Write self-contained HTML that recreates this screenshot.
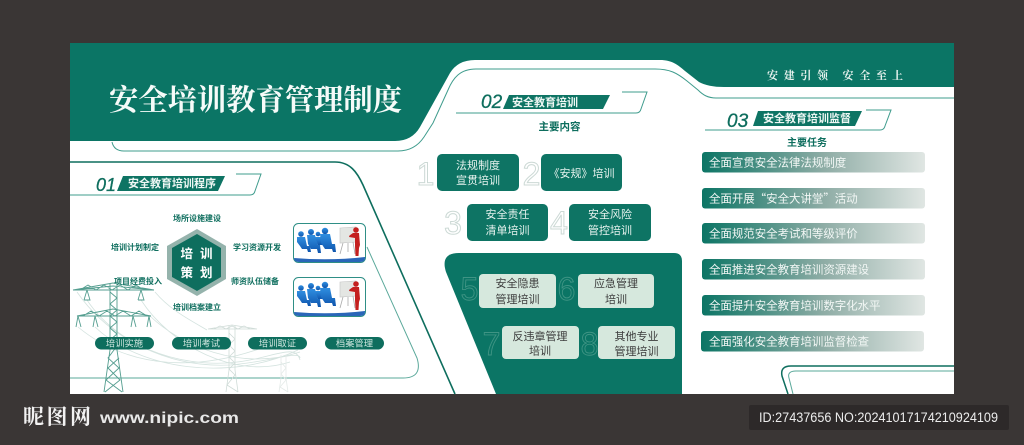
<!DOCTYPE html>
<html lang="zh"><head><meta charset="utf-8"><title>安全培训教育管理制度</title>
<style>
html,body{margin:0;padding:0;background:#3a3635}
svg{display:block;position:absolute;left:0;top:0}
text{font-family:"Liberation Sans","Noto Sans CJK SC",sans-serif}
.s{font-family:"Liberation Serif","Noto Serif CJK SC",serif}
.m{text-anchor:middle}
.lb{font-size:8px;font-weight:700;fill:#0e6e5e;text-anchor:middle}
.b{font-size:11px;fill:#e6f2ee;text-anchor:middle}
.d{font-size:11px;fill:#3c3c3c;text-anchor:middle}
.n{font-size:32px;fill:#fff;stroke:#ccd9d5;stroke-width:1;text-anchor:middle}
.g{font-size:32px;fill:none;stroke:#3f9484;stroke-width:.9;text-anchor:middle}
.p{font-size:9.3px;fill:#cfe6df;text-anchor:middle}
.t{font-size:11.45px;fill:#f2f7f5;font-family:"Noto Sans CJK SC",sans-serif}
.h{font-size:11px;font-weight:700;fill:#eef7f4}
.num{font-size:18px;font-style:italic;fill:#0e6e5e;stroke:#0e6e5e;stroke-width:.3}
</style></head><body>
<svg width="1024" height="445" viewBox="0 0 1024 445" xmlns="http://www.w3.org/2000/svg">
<defs>
<linearGradient id="gr" x1="0" x2="1" y1="0" y2="0"><stop offset="0" stop-color="#0c7565"/><stop offset=".55" stop-color="#8fada6"/><stop offset="1" stop-color="#e0e6e3"/></linearGradient>
<linearGradient id="bl" x1="0" x2="0" y1="0" y2="1"><stop offset="0" stop-color="#2f8ee0"/><stop offset="1" stop-color="#0f55ad"/></linearGradient>
<g id="thumb">
<rect x=".5" y=".5" width="72" height="39" rx="5" fill="#fff" stroke="#2f8f86"/>
<path d="M1 35q36 3 71 -1v1q0 4 -5 4H6q-5 0-5-4z" fill="#2a66b8"/>
<g fill="url(#bl)">
<circle cx="8" cy="11" r="2.800"/><path d="M4 14h8l2 9h3l1 6h-3l-1-3h-5l-2-3-3-4z"/>
<circle cx="18" cy="9" r="3"/><path d="M14 12h8l3 10h2l1 8h-3l-1-4h-6l-3-5z"/>
<circle cx="25" cy="11" r="2.300"/><path d="M22 14h6l2 8h-5z"/>
<circle cx="32" cy="8" r="3.200"/><path d="M27 11h10l2 10h3l1 8h-3l-1-3h-7l-4-6z"/>
</g>
<path d="M47 5l16-1v15l-16 1z" fill="#e4e6e3" stroke="#c4c4c4" stroke-width=".6"/>
<path d="M50 20l-3 11M60 19l2 12M55 20v9" stroke="#aaa" stroke-width=".8" fill="none"/>
<circle cx="63" cy="7" r="2.800" fill="#c4201f"/>
<path d="M60 10h6l1 12-1 3-.5 8h-3l-.5-10 0-8-6-1 .5-1.500z" fill="#c4201f"/>
</g>
</defs>

<rect width="1024" height="445" fill="#3a3635"/>
<rect x="70" y="43" width="884" height="351" fill="#fff"/>

<!-- top green -->
<path d="M70 43H954V87H724Q708 87 699 82L685 71C678 65 672 60 660 60H475Q458 60 450 73L420 127Q412 141 395 141H70Z" fill="#0b7565"/>
<!-- thin outline under banner -->
<path d="M112 142Q114 151 124 151H398C410 151 418 146 424 137L433 123L448 90C453 78 460 69 476 69H655C670 69 677 73 687 81L698 90C703 95 708 98 716 98H954" fill="none" stroke="#3f9c8d" stroke-width="1"/>

<!-- section 1 outlines -->
<path d="M70 162H335C350 162 357 172 363 185L455 394" fill="none" stroke="#0e6e5e" stroke-width="1.600"/>
<path d="M367 247L417 358Q423 378 403 378H70" fill="none" stroke="#5aa89a" stroke-width="1"/>

<!-- towers -->
<g fill="none" stroke="#d4e3df" stroke-width=".8">
<path d="M77 292C110 340 170 368 230 365C270 362 300 350 300 358M155 292C170 310 190 320 207 330M87 300C120 350 190 372 250 360C280 354 296 345 300 360M150 316C180 345 240 372 300 352M78 327C130 370 200 372 270 345M141 300C170 345 235 380 290 362M95 327C140 370 230 382 298 350"/>
</g>
<g fill="none" stroke="#559e90" stroke-width=".9">
<path d="M73 290L113 283L154 290L113 286ZM73 290H154M80 290L88 285L96 290L104 285L112 290L120 285L128 290L136 285L144 290"/>
<path d="M77 316L113 309L151 316ZM77 316H151M83 316L91 311L99 316L107 311L115 316L123 311L131 316L139 311L147 316"/>
<path d="M110 284V350L104 392M117 284V350L123 392M110 292L117 298L110 304L117 310L110 316L117 322L110 328L117 334L110 340L117 346L108 358L119 368L106 380L122 392M119 358L108 368L120 380L105 392"/>
<path d="M87 290L84 300M87 290L90 300H84M141 290L138 300M141 290L144 300H138M78 316L76 327M78 316L81 327M95 316L93 327M95 316L98 327M133 316L131 327M133 316L136 327M149 316L147 327M149 316L151 327"/>
</g>
<g fill="none" stroke="#d0dcd8" stroke-width=".8">
<path d="M208 329L232 325L257 329ZM214 329L220 326L226 329L232 326L238 329L244 326L250 329"/>
<path d="M229 326V370L226 392M235 326V370L238 392M229 333L235 339L229 345L235 351L229 357L235 363L229 369L235 375L227 385L238 392"/>
</g>
<g fill="none" stroke="#e4eae8" stroke-width=".8">
<path d="M281 355V378L279 392M286 355V378L288 392M281 362L286 368L281 374L286 380L280 387L288 392"/>
</g>

<!-- section 1 head -->
<text class="num" x="96" y="191">01</text>
<path d="M117 191L123 176H225L218 191Z" fill="#0e7464"/>
<text class="h" x="128" y="187">安全教育培训程序</text>
<path d="M70 195H250Q254 195 255 191L261 174H236" fill="none" stroke="#3f9c8d" stroke-width="1"/>

<!-- hexagon -->
<path d="M197 229L226 246V279L197 296L167 279V246Z" fill="#95b3ac"/>
<path d="M197 234L221 248V277L197 291L172 277V248Z" fill="#0e6e5e"/>
<g font-size="12.500" font-weight="700" fill="#fff">
<text x="180.500" y="258">培</text><text x="200" y="258">训</text>
<text x="180.500" y="277">策</text><text x="200" y="277">划</text>
</g>
<text class="lb" x="197" y="221">场所设施建设</text>
<text class="lb" x="135" y="250">培训计划制定</text>
<text class="lb" x="257" y="250">学习资源开发</text>
<text class="lb" x="138" y="284">项目经费投入</text>
<text class="lb" x="255" y="284">师资队伍储备</text>
<text class="lb" x="197" y="310">培训档案建立</text>

<use href="#thumb" x="293" y="223"/>
<use href="#thumb" x="293" y="277"/>

<g fill="#0e6e5e">
<rect x="95" y="337" width="59" height="12.500" rx="6.250"/>
<rect x="172" y="337" width="59" height="12.500" rx="6.250"/>
<rect x="248" y="337" width="59" height="12.500" rx="6.250"/>
<rect x="325" y="337" width="59" height="12.500" rx="6.250"/>
</g>
<text class="p" x="124.500" y="346.500">培训实施</text>
<text class="p" x="201.500" y="346.500">培训考试</text>
<text class="p" x="277.500" y="346.500">培训取证</text>
<text class="p" x="354.500" y="346.500">档案管理</text>

<!-- section 2 head -->
<text class="num" x="481" y="108" style="font-size:19px">02</text>
<path d="M503 109L509 95H610L603 109Z" fill="#0e7464"/>
<text class="h" x="512" y="106">安全教育培训</text>
<path d="M456 113H636Q640 113 641 109L647 92H622" fill="none" stroke="#3f9c8d" stroke-width="1"/>
<text class="m" x="559.500" y="130" font-size="10.500" font-weight="700" fill="#0e6e5e">主要内容</text>

<!-- numbered boxes -->
<text class="n" x="425.500" y="185">1</text>
<text class="n" x="531.500" y="185">2</text>
<text class="n" x="453" y="234">3</text>
<text class="n" x="559" y="234">4</text>
<g fill="#0e7464">
<rect x="437" y="154" width="82" height="37" rx="5"/>
<rect x="541" y="154" width="81" height="37" rx="5"/>
<rect x="467" y="204" width="81" height="37" rx="5"/>
<rect x="569" y="204" width="82" height="37" rx="5"/>
</g>
<text class="b" x="478" y="169">法规制度</text>
<text class="b" x="478" y="184">宣贯培训</text>
<text class="b" x="581.500" y="177">《安规》培训</text>
<text class="b" x="507.500" y="218">安全责任</text>
<text class="b" x="507.500" y="234">清单培训</text>
<text class="b" x="610" y="218">安全风险</text>
<text class="b" x="610" y="234">管控培训</text>

<!-- dark block -->
<path d="M459 253H674Q682 253 682 261V394H496L446 272Q440 253 459 253Z" fill="#0b7565"/>
<text class="g" x="469.500" y="300">5</text>
<text class="g" x="566.500" y="300">6</text>
<text class="g" x="491.500" y="355">7</text>
<text class="g" x="589.500" y="355">8</text>
<g fill="#d6e8dd">
<rect x="479" y="274" width="77" height="34" rx="4"/>
<rect x="578" y="274" width="76" height="34" rx="4"/>
<rect x="502" y="326" width="77" height="33" rx="4"/>
<rect x="598" y="326" width="77" height="33" rx="4"/>
</g>
<text class="d" x="517.500" y="287">安全隐患</text>
<text class="d" x="517.500" y="303">管理培训</text>
<text class="d" x="616" y="287">应急管理</text>
<text class="d" x="616" y="303">培训</text>
<text class="d" x="540" y="340">反违章管理</text>
<text class="d" x="540" y="354.500">培训</text>
<text class="d" x="636.500" y="340">其他专业</text>
<text class="d" x="636.500" y="355">管理培训</text>

<!-- section 3 head -->
<text class="num" x="727" y="127" style="font-size:19px">03</text>
<path d="M753 126L758 111H862L855 126Z" fill="#0e7464"/>
<text class="h" x="763" y="122">安全教育培训监督</text>
<path d="M705 130H880Q884 130 885 126L891 110H866" fill="none" stroke="#3f9c8d" stroke-width="1"/>
<text class="m" x="807" y="146" font-size="10" font-weight="700" fill="#0e6e5e">主要任务</text>

<g fill="url(#gr)">
<rect x="702" y="152" width="223" height="20.500" rx="3"/>
<rect x="702" y="188" width="223" height="20.500" rx="3"/>
<rect x="702" y="223" width="223" height="20.500" rx="3"/>
<rect x="702" y="259" width="223" height="20.500" rx="3"/>
<rect x="702" y="295" width="223" height="20.500" rx="3"/>
<rect x="701" y="331" width="223" height="20.500" rx="3"/>
</g>
<text class="t" x="709" y="166.500">全面宣贯安全法律法规制度</text>
<text class="t" x="709" y="202.500">全面开展“安全大讲堂”活动</text>
<text class="t" x="709" y="237.500">全面规范安全考试和等级评价</text>
<text class="t" x="709" y="273.500">全面推进安全教育培训资源建设</text>
<text class="t" x="709" y="309.500">全面提升安全教育培训数字化水平</text>
<text class="t" x="709" y="345.500">全面强化安全教育培训监督检查</text>

<!-- bottom right outlines -->
<path d="M788 394L782 376Q780 366 791 366H954" fill="none" stroke="#0e6e5e" stroke-width="1.500"/>
<path d="M793 394L789 378Q787 371 796 371H954" fill="none" stroke="#5aa89a" stroke-width="1"/>

<!-- banner text -->
<text class="s" x="109" y="110" font-size="29.300" font-weight="700" fill="#f6fbf9">安全培训教育管理制度</text>
<text class="s" y="79" font-size="11" font-weight="700" fill="#e8f3ef" x="767 783.700 800.400 817 842.500 859.200 875.900 892">安建引领安全至上</text>

<!-- watermark -->
<text class="s" x="23" y="424" font-size="21" font-weight="700" fill="#f2f2f2" textLength="68" lengthAdjust="spacing">昵图网</text>
<text x="100" y="423" font-size="15.500" font-weight="700" fill="#e8e8e8" textLength="139" lengthAdjust="spacingAndGlyphs">www.nipic.com</text>
<rect x="749" y="405" width="260" height="25" rx="2" fill="#2d2929"/>
<text x="759" y="422" font-size="13.500" fill="#ececec" textLength="239" lengthAdjust="spacingAndGlyphs">ID:27437656 NO:20241017174210924109</text>
</svg>
</body></html>
